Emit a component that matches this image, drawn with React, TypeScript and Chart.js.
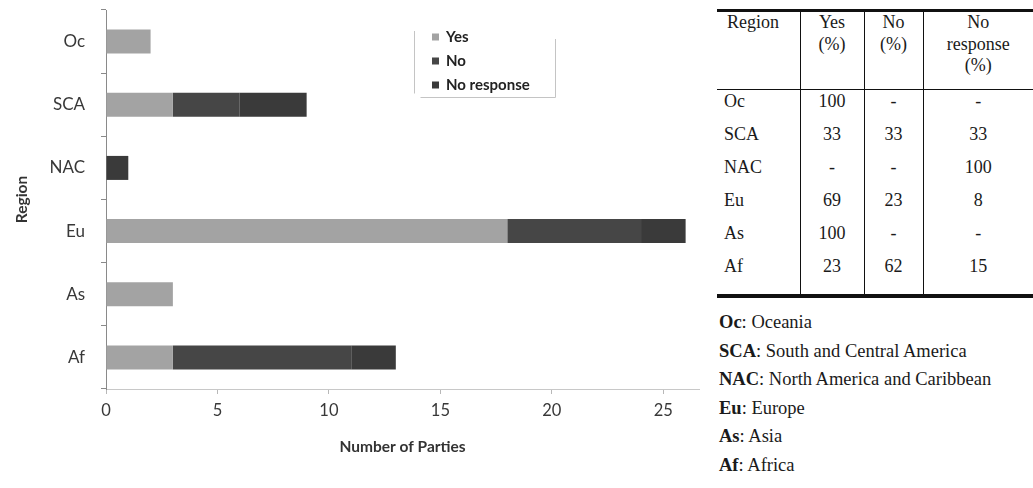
import React, { useEffect, useRef } from 'react';
import { Chart, registerables } from 'chart.js';

Chart.register(...registerables);

// Number of parties per region, split by answer
const regions = ['Oc', 'SCA', 'NAC', 'Eu', 'As', 'Af'];
const yesCounts = [2, 3, 0, 18, 3, 3];
const noCounts = [0, 3, 0, 6, 0, 8];
const noResponseCounts = [0, 3, 1, 2, 0, 2];
const xTickValues = [0, 5, 10, 15, 20, 25];

// Percentage table shown beside the chart
const tableRegions = ['Oc', 'SCA', 'NAC', 'Eu', 'As', 'Af'];
const yesPercent = ['100', '33', '-', '69', '100', '23'];
const noPercent = ['-', '33', '-', '23', '-', '62'];
const noResponsePercent = ['-', '33', '100', '8', '-', '15'];

// Abbreviation key
const abbreviations = ['Oc', 'SCA', 'NAC', 'Eu', 'As', 'Af'];
const regionNames = [
  'Oceania',
  'South and Central America',
  'North America and Caribbean',
  'Europe',
  'Asia',
  'Africa',
];

const CHART_FONT = 'Lato, "DejaVu Sans", sans-serif';
const SERIF = '"Liberation Serif", "Times New Roman", serif';

// Legend drawn as a small open box inside the plot
const boxedLegend = {
  id: 'boxedLegend',
  afterDraw(chart: any) {
    const { ctx } = chart;
    const left = 414.5;
    const right = 555.5;
    const top = 31;
    const bottom = 97.5;
    ctx.save();
    ctx.strokeStyle = '#c4c4c4';
    ctx.lineWidth = 1;
    ctx.beginPath();
    ctx.moveTo(left, top);
    ctx.lineTo(left, bottom - 4);
    ctx.moveTo(left + 6, bottom);
    ctx.lineTo(right, bottom);
    ctx.lineTo(right, top + 8);
    ctx.stroke();

    ctx.font = `bold 15px ${CHART_FONT}`;
    ctx.textBaseline = 'middle';
    ctx.textAlign = 'left';
    chart.data.datasets.forEach((ds: any, i: number) => {
      const y = 37 + i * 24;
      ctx.fillStyle = ds.backgroundColor;
      ctx.fillRect(432, y - 3.5, 7, 7);
      ctx.fillStyle = '#222222';
      ctx.fillText(ds.label, 446, y);
    });
    ctx.restore();
  },
};

function RegionChart() {
  const canvasRef = useRef<HTMLCanvasElement | null>(null);

  useEffect(() => {
    if (!canvasRef.current) return;
    const chart = new Chart(canvasRef.current, {
      type: 'bar',
      data: {
        labels: regions,
        datasets: [
          { label: 'Yes', data: yesCounts, backgroundColor: '#a3a3a3' },
          { label: 'No', data: noCounts, backgroundColor: '#464646' },
          { label: 'No response', data: noResponseCounts, backgroundColor: '#3a3a3a' },
        ],
      },
      options: {
        indexAxis: 'y',
        responsive: false,
        animation: false,
        layout: { padding: { top: 10, right: 6, left: 0, bottom: 0 } },
        datasets: {
          bar: { categoryPercentage: 1, barPercentage: 0.38, borderWidth: 0 },
        },
        plugins: {
          legend: { display: false },
          tooltip: { enabled: false },
        },
        scales: {
          x: {
            stacked: true,
            min: 0,
            max: 26.6,
            afterBuildTicks: (scale: any) => {
              scale.ticks = xTickValues.map((v) => ({ value: v }));
            },
            afterFit: (scale: any) => {
              scale.height = 99;
            },
            grid: {
              drawOnChartArea: false,
              drawTicks: true,
              tickLength: 5,
              color: '#b8b8b8',
            },
            border: { display: true, color: '#c8c8c8', dash: [7, 5] },
            ticks: {
              padding: 7,
              color: '#383838',
              font: { family: CHART_FONT, size: 16.5 },
            },
            title: {
              display: true,
              text: 'Number of Parties',
              color: '#333333',
              font: { family: CHART_FONT, size: 15.5, weight: 'bold' },
              padding: { top: 0, bottom: 32 },
            },
          },
          y: {
            stacked: true,
            afterFit: (scale: any) => {
              scale.width = 106;
              scale.paddingTop = 0;
              scale.paddingBottom = 0;
            },
            grid: {
              drawOnChartArea: false,
              drawTicks: true,
              tickLength: 5,
              color: '#8a8a8a',
            },
            border: { display: true, color: '#8a8a8a' },
            ticks: {
              padding: 16,
              color: '#383838',
              font: { family: CHART_FONT, size: 17 },
            },
            title: {
              display: true,
              text: 'Region',
              color: '#333333',
              font: { family: CHART_FONT, size: 15.5, weight: 'bold' },
              padding: { top: 13, bottom: 0 },
            },
          },
        },
      },
      plugins: [boxedLegend],
    } as any);
    return () => chart.destroy();
  }, []);

  return (
    <canvas
      ref={canvasRef}
      width={705}
      height={488}
      style={{ position: 'absolute', left: 0, top: 0, width: 705, height: 488 }}
    />
  );
}

const cellBase: React.CSSProperties = {
  padding: 0,
  borderLeft: '1px solid #111',
  textAlign: 'center',
  verticalAlign: 'top',
};

function PercentTable() {
  const headers = [
    ['Yes', '(%)'],
    ['No', '(%)'],
    ['No', 'response', '(%)'],
  ];
  const rowH = 33;
  return (
    <table
      style={{
        position: 'absolute',
        left: 717,
        top: 9,
        width: 316,
        borderCollapse: 'collapse',
        tableLayout: 'fixed',
        fontFamily: SERIF,
        fontSize: 18,
        color: '#1a1a1a',
        borderTop: '3px solid #111',
        borderBottom: '4px solid #111',
      }}
    >
      <colgroup>
        <col style={{ width: 83 }} />
        <col style={{ width: 64 }} />
        <col style={{ width: 59 }} />
        <col style={{ width: 110 }} />
      </colgroup>
      <thead>
        <tr style={{ height: 79 }}>
          <th
            style={{
              fontWeight: 'normal',
              textAlign: 'left',
              verticalAlign: 'top',
              padding: '0 0 0 10px',
              borderBottom: '1.5px solid #111',
              lineHeight: '21.5px',
            }}
          >
            Region
          </th>
          {headers.map((lines, i) => (
            <th
              key={i}
              style={{
                ...cellBase,
                fontWeight: 'normal',
                paddingTop: 0,
                borderBottom: '1.5px solid #111',
                lineHeight: '21.5px',
              }}
            >
              {lines.map((l, j) => (
                <div key={j}>{l}</div>
              ))}
            </th>
          ))}
        </tr>
      </thead>
      <tbody>
        {tableRegions.map((r, i) => {
          const last = i === tableRegions.length - 1;
          const h = last ? rowH + 8 : rowH;
          const pad = { paddingTop: 1, lineHeight: '21px', height: h, boxSizing: 'border-box' as const };
          return (
            <tr key={r}>
              <td style={{ ...pad, padding: '1px 0 0 7px', verticalAlign: 'top', textAlign: 'left' }}>{r}</td>
              <td style={{ ...cellBase, ...pad }}>{yesPercent[i]}</td>
              <td style={{ ...cellBase, ...pad }}>{noPercent[i]}</td>
              <td style={{ ...cellBase, ...pad }}>{noResponsePercent[i]}</td>
            </tr>
          );
        })}
      </tbody>
    </table>
  );
}

function AbbreviationKey() {
  return (
    <div
      style={{
        position: 'absolute',
        left: 719,
        top: 308,
        fontFamily: SERIF,
        fontSize: 18.5,
        color: '#1a1a1a',
        lineHeight: '28.6px',
      }}
    >
      {abbreviations.map((a, i) => (
        <div key={a}>
          <b>{a}</b>: {regionNames[i]}
        </div>
      ))}
    </div>
  );
}

export default function App() {
  return (
    <div
      style={{
        position: 'absolute',
        left: 0,
        top: 0,
        width: 1033,
        height: 488,
        background: '#ffffff',
        overflow: 'hidden',
      }}
    >
      <RegionChart />
      <PercentTable />
      <AbbreviationKey />
    </div>
  );
}
